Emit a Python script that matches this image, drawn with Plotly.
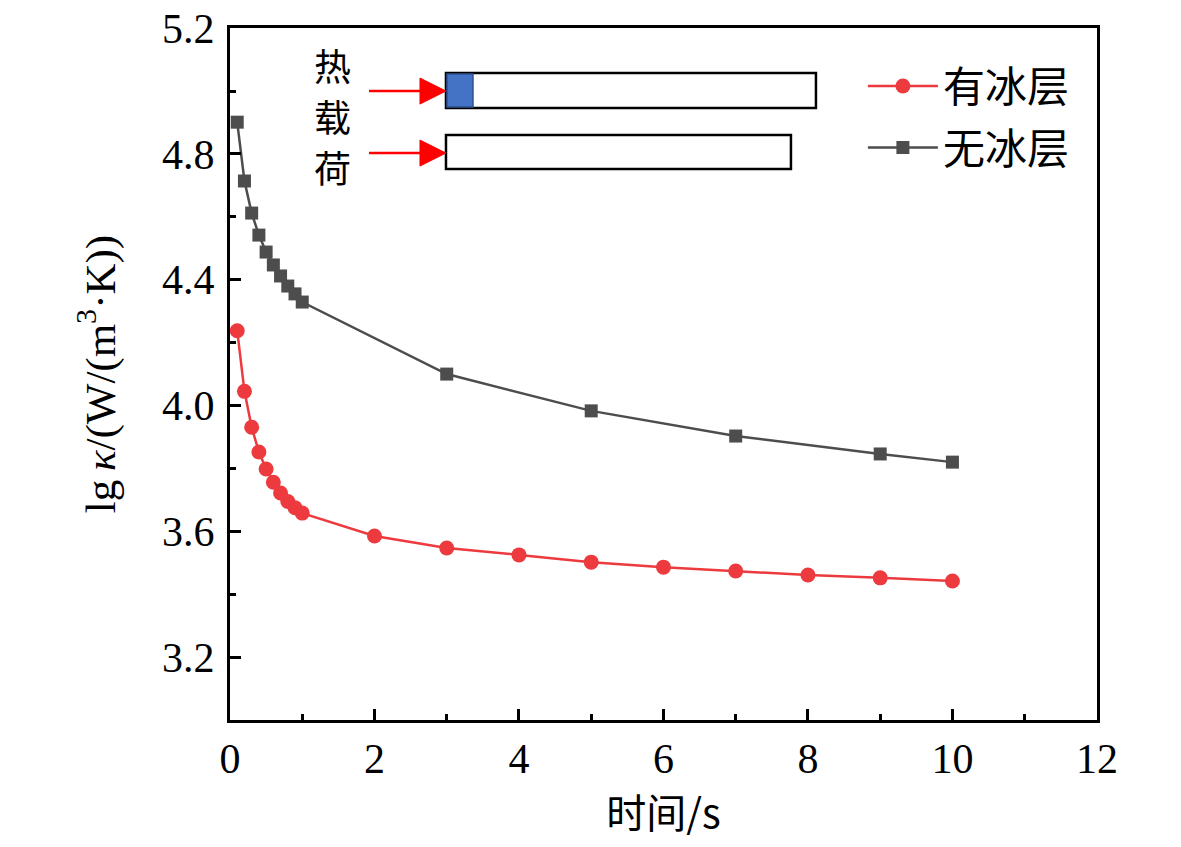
import plotly.graph_objects as go

# time (s)
t_ice = [0.1, 0.2, 0.3, 0.4, 0.5, 0.6, 0.7, 0.8, 0.9, 1.0, 2, 3, 4, 5, 6, 7, 8, 9, 10]
lg_ice = [4.238, 4.045, 3.931, 3.852, 3.798, 3.756, 3.722, 3.695, 3.675, 3.658,
          3.585, 3.547, 3.525, 3.502, 3.486, 3.474, 3.461, 3.452, 3.442]

t_noice = [0.1, 0.2, 0.3, 0.4, 0.5, 0.6, 0.7, 0.8, 0.9, 1.0, 3, 5, 7, 9, 10]
lg_noice = [4.901, 4.714, 4.612, 4.542, 4.488, 4.447, 4.412, 4.380, 4.355, 4.329,
            4.100, 3.983, 3.903, 3.846, 3.820]

names = ["有冰层", "无冰层"]
y_ticks = [3.2, 3.6, 4.0, 4.4, 4.8, 5.2]
x_ticks = [0, 2, 4, 6, 8, 10, 12]
load_chars = ["热", "载", "荷"]

serif = "Liberation Serif, Times New Roman, serif"
cjk = "Noto Sans CJK SC"

fig = go.Figure()
fig.add_trace(go.Scatter(x=t_ice, y=lg_ice, name=names[0], mode="lines+markers",
                         legendgroup="a",
                         line=dict(color="#EC3A3F", width=2.5),
                         marker=dict(symbol="circle", size=15, color="#EC3A3F")))
fig.add_trace(go.Scatter(x=t_noice, y=lg_noice, name=names[1], mode="lines+markers",
                         legendgroup="b",
                         line=dict(color="#4D4D4D", width=2.5),
                         marker=dict(symbol="square", size=13, color="#4D4D4D")))

# inset sketch (heat load on plate, with / without ice layer), placed by pixel
def dx(px):
    return (px - 230) / 72.25

def dy(py):
    return 3.0 + (717 - py) / 314.5

shapes = []
for (x0, x1, y0, y1) in [(446, 816, 70, 105), (446, 791, 132, 166)]:
    shapes.append(dict(type="rect", xref="x", yref="y", x0=dx(x0), x1=dx(x1),
                       y0=dy(y1), y1=dy(y0), line=dict(color="black", width=2.5),
                       fillcolor="white", layer="above"))
shapes.append(dict(type="rect", xref="x", yref="y", x0=dx(447), x1=dx(473),
                   y0=dy(104), y1=dy(71), line=dict(color="#2F528F", width=1.5),
                   fillcolor="#4472C4", layer="above"))
for ay in [88, 150]:
    shapes.append(dict(type="line", xref="x", yref="y", x0=dx(369), x1=dx(424),
                       y0=dy(ay), y1=dy(ay), line=dict(color="#FF0000", width=2.5)))
    path = "M %f %f L %f %f L %f %f Z" % (dx(420), dy(ay - 13), dx(446), dy(ay),
                                          dx(420), dy(ay + 13))
    shapes.append(dict(type="path", xref="x", yref="y", path=path,
                       fillcolor="#FF0000", line=dict(color="#FF0000", width=1)))

for ch, cy in zip(load_chars, [62, 113, 164]):
    fig.add_annotation(x=dx(333), y=dy(cy), xref="x", yref="y", text=ch,
                       showarrow=False, font=dict(family=cjk, size=37, color="black"))

axis_common = dict(showline=True, linecolor="black", linewidth=3, mirror=True,
                   ticks="inside", tickwidth=2.5, tickcolor="black", ticklen=11,
                   showgrid=False, zeroline=False, automargin=False,
                   ticklabeloverflow="allow",
                   tickfont=dict(family=serif, size=42, color="black"))

fig.update_layout(
    width=1181, height=847,
    margin=dict(l=222, r=92, t=20, b=135),
    plot_bgcolor="white", paper_bgcolor="white",
    shapes=shapes,
    xaxis=dict(range=[0, 12.001], tickvals=x_ticks,
               minor=dict(dtick=1, tick0=0, ticks="inside", ticklen=6, tickwidth=2.5,
                          tickcolor="black"),
               title=dict(text="时间/s", font=dict(family=cjk, size=40, color="black"),
                          standoff=14),
               **axis_common),
    yaxis=dict(range=[3.0, 5.2005], tickvals=y_ticks, tickformat=".1f",
               ticklabelstandoff=4,
               minor=dict(dtick=0.2, tick0=3.0, ticks="inside", ticklen=6, tickwidth=2.5,
                          tickcolor="black"),
               title=dict(text="lg\u2009<i>κ</i>/(W/(m<sup>3</sup>·K))",
                          font=dict(family=serif, size=43, color="black"), standoff=34),
               **axis_common),
    legend=dict(x=0.730, y=0.965, xanchor="left", yanchor="top",
                bgcolor="rgba(0,0,0,0)", font=dict(family=cjk, size=42, color="black"),
                itemwidth=70, tracegroupgap=4, traceorder="grouped"),
    showlegend=True,
)

fig.write_html("out.html")
